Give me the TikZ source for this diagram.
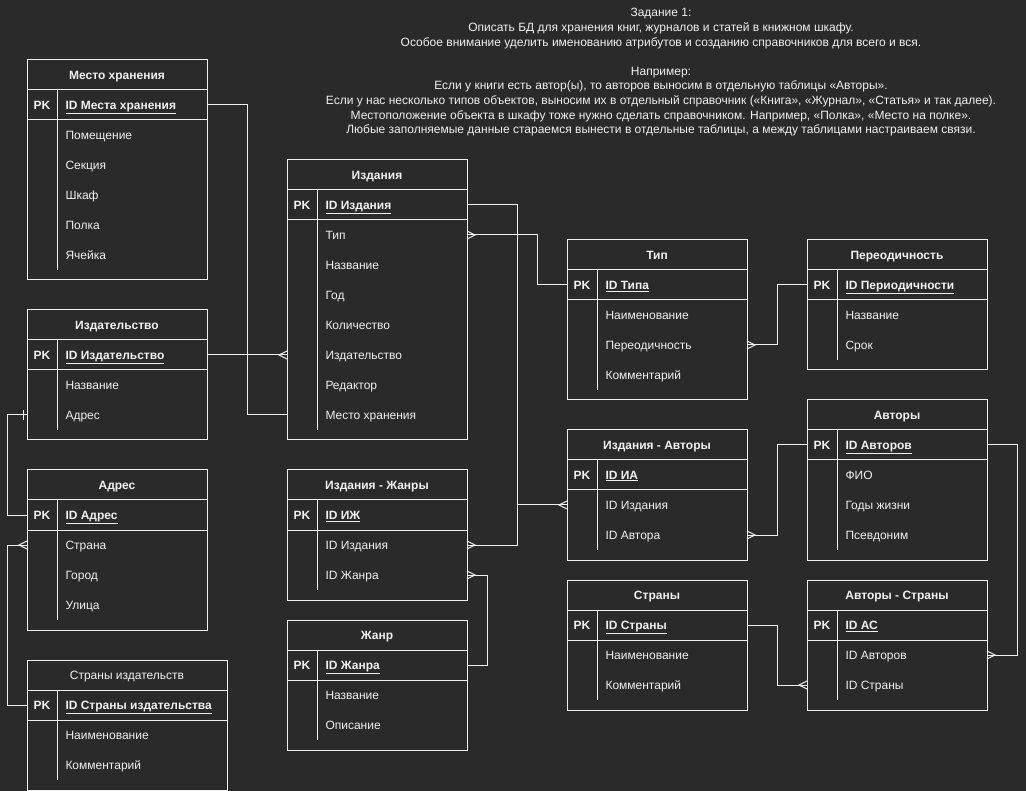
\documentclass[tikz,border=0pt]{standalone}
\usepackage{fontspec}
\setmainfont{Liberation Sans}
\usepackage{tikz}
\usetikzlibrary{positioning,arrows.meta,calc}
\definecolor{fondo}{RGB}{42,42,42}
\definecolor{trazo}{RGB}{240,240,240}
\definecolor{texto}{RGB}{240,240,240}
\newcommand{\tam}{\fontsize{12}{14.6}\selectfont}

% pata de gallo (muchos) y barra (uno)
\pgfdeclarearrow{
  name = Muchos,
  parameters = {\the\pgfarrowlength,\the\pgfarrowwidth},
  setup code = {
    \pgfarrowssettipend{0pt}
    \pgfarrowssetlineend{0pt}
    \pgfarrowssetbackend{-\pgfarrowlength}
    \pgfarrowssetvisualbackend{-\pgfarrowlength}
    \pgfarrowshullpoint{0pt}{.5\pgfarrowwidth}
    \pgfarrowshullpoint{0pt}{-.5\pgfarrowwidth}
    \pgfarrowshullpoint{-\pgfarrowlength}{0pt}
    \pgfarrowssavethe\pgfarrowlength
    \pgfarrowssavethe\pgfarrowwidth
  },
  drawing code = {
    \pgfpathmoveto{\pgfqpoint{0pt}{.5\pgfarrowwidth}}
    \pgfpathlineto{\pgfqpoint{-\pgfarrowlength}{0pt}}
    \pgfpathlineto{\pgfqpoint{0pt}{-.5\pgfarrowwidth}}
    \pgfusepathqstroke
  },
  defaults = {length=8pt, width=8pt}
}
\pgfdeclarearrow{
  name = Uno,
  parameters = {\the\pgfarrowlength,\the\pgfarrowwidth},
  setup code = {
    \pgfarrowssettipend{0pt}
    \pgfarrowssetlineend{0pt}
    \pgfarrowssetbackend{-\pgfarrowlength}
    \pgfarrowssetvisualbackend{-\pgfarrowlength}
    \pgfarrowshullpoint{0pt}{0pt}
    \pgfarrowshullpoint{-\pgfarrowlength}{.5\pgfarrowwidth}
    \pgfarrowshullpoint{-\pgfarrowlength}{-.5\pgfarrowwidth}
    \pgfarrowssavethe\pgfarrowlength
    \pgfarrowssavethe\pgfarrowwidth
  },
  drawing code = {
    \pgfpathmoveto{\pgfqpoint{-\pgfarrowlength}{.5\pgfarrowwidth}}
    \pgfpathlineto{\pgfqpoint{-\pgfarrowlength}{-.5\pgfarrowwidth}}
    \pgfusepathqstroke
  },
  defaults = {length=4pt, width=10pt}
}

% #1 nombre, #2 x, #3 y, #4 ancho, #5 titulo, #6 clave, #7 campos
\newcommand{\tabla}[7]{%
  \node[cabecera, minimum width=#4pt, anchor=north west] (#1) at (#2,#3) {#5};
  \node[fila, draw=trazo, minimum width=#4pt, below=0pt of #1] (#1-pk) {};
  \node[clave, anchor=base] at ([xshift=15pt, yshift=-4.3pt]#1-pk.west) {PK};
  \node[campo, font=\tam\bfseries] at ([xshift=38pt, yshift=-4.3pt]#1-pk.west) {\underline{#6}};
  \foreach \c [count=\i, remember=\i as \j (initially pk)] in {#7} {
    \node[fila, minimum width=#4pt, below=0pt of #1-\j] (#1-\i) {};
    \node[campo] at ([xshift=38pt, yshift=-4.3pt]#1-\i.west) {\c};
    \xdef\nfil{\i}
  }
  \draw[trazo] (#1-pk.south west) rectangle ([yshift=-10pt]#1-\nfil.south east);
  \draw[trazo] ([xshift=30pt]#1-pk.north west) -- ([xshift=30pt]#1-\nfil.south west);
}

\begin{document}
\begin{tikzpicture}[x=1pt, y=-1pt, line width=1pt,
  every node/.style={font=\tam},
  cabecera/.style={draw=trazo, minimum height=30pt, inner sep=0pt,
                   outer sep=0pt, text height=8.6pt, text depth=0pt,
                   text=texto, font=\tam\bfseries},
  fila/.style={minimum height=30pt, inner sep=0pt, outer sep=0pt},
  clave/.style={inner sep=0pt, text=texto, font=\tam\bfseries},
  campo/.style={anchor=base west, inner sep=0pt, text=texto},
  titulo/.style={anchor=north, align=center, inner sep=0pt, text=texto},
  enlace/.style={draw=trazo, line width=1pt}]
  \fill[fondo] (0,0) rectangle (1026,791);

  \node[titulo] (tarea) at (661,8) {Задание 1:\\
    Описать БД для хранения книг, журналов и статей в книжном шкафу.\\
    Особое внимание уделить именованию атрибутов и созданию справочников для всего и вся.\\[14.6pt]
    Например:\\
    Если у книги есть автор(ы), то авторов выносим в отдельную таблицы «Авторы».\\
    Если у нас несколько типов объектов, выносим их в отдельный справочник («Книга», «Журнал», «Статья» и так далее).\\
    Местоположение объекта в шкафу тоже нужно сделать справочником. Например, «Полка», «Место на полке».\\
    Любые заполняемые данные стараемся вынести в отдельные таблицы, а между таблицами настраиваем связи.};

  \tabla{mesto}{27}{60}{180}{Место хранения}{ID Места хранения}{Помещение,Секция,Шкаф,Полка,Ячейка}
  \tabla{izdat}{27}{310}{180}{Издательство}{ID Издательство}{Название,Адрес}
  \tabla{adres}{27}{470}{180}{Адрес}{ID Адрес}{Страна,Город,Улица}
  \tabla{stranyizd}{27}{660}{200}{\mdseries Страны издательств}{ID Страны издательства}{Наименование,Комментарий}
  \tabla{izd}{287}{160}{180}{Издания}{ID Издания}{Тип,Название,Год,Количество,Издательство,Редактор,Место хранения}
  \tabla{izg}{287}{470}{180}{Издания - Жанры}{ID ИЖ}{ID Издания,ID Жанра}
  \tabla{zhanr}{287}{620}{180}{Жанр}{ID Жанра}{Название,Описание}
  \tabla{tip}{567}{240}{180}{Тип}{ID Типа}{Наименование,Переодичность,Комментарий}
  \tabla{period}{807}{240}{180}{Переодичность}{ID Периодичности}{Название,Срок}
  \tabla{avt}{807}{400}{180}{Авторы}{ID Авторов}{ФИО,Годы жизни,Псевдоним}
  \tabla{ia}{567}{430}{180}{Издания - Авторы}{ID ИА}{ID Издания,ID Автора}
  \tabla{strany}{567}{580}{180}{Страны}{ID Страны}{Наименование,Комментарий}
  \tabla{avtstr}{807}{580}{180}{Авторы - Страны}{ID АС}{ID Авторов,ID Страны}

  % связи
  \draw[enlace] (mesto-pk.east) -- ++(40,0) |- (izd-7.west);
  \draw[enlace, -{Muchos}] (izdat-pk.east) -- (izd-5.west);
  \draw[enlace, -{Muchos}] (izd-pk.east) -- ++(50,0) |- (ia-1.west);
  \draw[enlace, -{Muchos}] (izd-pk.east) -- ++(50,0) |- (izg-1.east);
  \draw[enlace, {Muchos}-] (izd-1.east) -- ++(70,0) |- (tip-pk.west);
  \draw[enlace, {Muchos}-] (tip-2.east) -- ++(30,0) |- (period-pk.west);
  \draw[enlace, {Muchos}-] (izg-2.east) -- ++(20,0) |- (zhanr-pk.east);
  \draw[enlace, {Muchos}-] (ia-2.east) -- ++(30,0) |- (avt-pk.west);
  \draw[enlace, -{Muchos}] (avt-pk.east) -- ++(30,0) |- (avtstr-1.east);
  \draw[enlace, -{Muchos}] (strany-pk.east) -- ++(30,0) |- (avtstr-2.west);
  \draw[enlace, {Uno}-] (izdat-2.west) -- ++(-20,0) |- (adres-pk.west);
  \draw[enlace, {Muchos}-] (adres-1.west) -- ++(-20,0) |- (stranyizd-pk.west);
\end{tikzpicture}
\end{document}
